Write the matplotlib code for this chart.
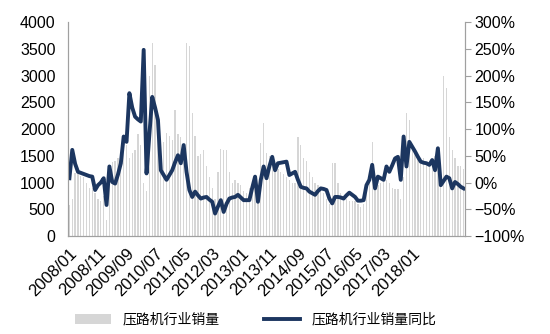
import matplotlib.pyplot as plt
import matplotlib.transforms as mtransforms
import numpy as np

plt.rcParams['font.family'] = ['Liberation Sans', 'Noto Sans CJK SC', 'DejaVu Sans']

# monthly data, 2008/01 .. 2019/07
months = []
for y in range(2008, 2020):
    for m in range(1, 13):
        months.append(f'{y}/{m:02d}')
months = months[:139]

sales = [
    580, 700, 1180, 1200, 1130, 1100, 1000, 900, 900, 800,
    700, 650, 750, 300, 1300, 1380, 1400, 1450, 1550, 1650,
    1700, 1450, 1550, 1600, 1900, 1700, 1000, 850, 3000, 3600,
    3200, 2000, 1500, 1750, 1920, 1870, 1800, 2350, 1900, 1850,
    1550, 3600, 3550, 2300, 1870, 1500, 1540, 1600, 1300, 1100,
    900, 700, 1200, 1620, 1600, 1600, 1200, 1000, 1050, 1000,
    950, 850, 800, 900, 1000, 1100, 800, 1740, 2110, 1550,
    1500, 1450, 1300, 1250, 1200, 1150, 1100, 1050, 1000, 1000,
    1850, 1700, 1450, 1400, 1200, 1100, 1000, 950, 900, 800,
    700, 600, 1360, 1360, 1000, 800, 750, 700, 650, 650,
    650, 600, 550, 600, 800, 1100, 1760, 900, 960, 1000,
    1050, 1050, 1000, 900, 880, 880, 700, 1100, 2300, 2170,
    1700, 1550, 1500, 1400, 1450, 1350, 1300, 1350, 1500, 1400,
    1350, 3000, 2770, 1860, 1600, 1450, 1300, 1300, 1250,
]

yoy = [
    8, 61, 35, 20, 18, 16, 14, 12, 11, -14,
    -5, 0, 8, -42, 30, 1, -2, 15, 36, 86,
    76, 167, 140, 123, 118, 114, 248, 17, 90, 160,
    140, 117, 23, 14, 5, 14, 23, 38, 51, 36,
    70, 20, -14, -27, -17, -24, -30, -28, -27, -32,
    -36, -58, -45, -33, -55, -40, -30, -28, -27, -23,
    -28, -33, -33, -33, -10, 11, -36, 5, 30, 8,
    30, 48, 23, 36, 37, 38, 39, 14, 17, 20,
    5, -8, -10, -11, -17, -20, -23, -16, -11, -12,
    -14, -30, -39, -27, -27, -28, -30, -24, -19, -23,
    -27, -34, -34, -33, -5, 5, 33, -11, 11, 8,
    5, 30, 20, 32, 45, 48, 5, 86, 30, 76,
    67, 58, 48, 39, 37, 36, 33, 42, 23, 64,
    -5, 3, 11, 8, -11, 1, -3, -8, -11,
]

x = np.arange(len(months))

fig = plt.figure(figsize=(5.5, 3.34), dpi=100)
ax = fig.add_axes([0.1236, 0.2934, 0.7219, 0.6406])
ax2 = ax.twinx()

ax.bar(x, sales, width=0.45, color='#d6d6d6', label='压路机行业销量')
ax2.plot(x, yoy, color='#1c3660', lw=2.8, label='压路机行业销量同比')

ax.set_xlim(-0.5, len(months) - 0.5)
ax.set_ylim(0, 4000)
ax.set_yticks(range(0, 4001, 500))
ax2.set_ylim(-100, 300)
ax2.set_yticks(range(-100, 301, 50))
ax2.set_yticklabels([f'{v}%'.replace('-', '\u2212') for v in range(-100, 301, 50)])

# labels every 10 months, last one 2018/01
ax.set_xticks(x[:121:10])
ax.set_xticklabels(months[:121:10], rotation=45, ha='right', rotation_mode='anchor',
                   fontsize=12)
shift = mtransforms.ScaledTranslation(0.04, 0, fig.dpi_scale_trans)
for lab in ax.get_xticklabels():
    lab.set_transform(lab.get_transform() + shift)

for a in (ax, ax2):
    a.spines['top'].set_visible(False)
    for s in ('left', 'right', 'bottom'):
        a.spines[s].set_color('#a0a0a0')
    a.tick_params(axis='y', labelsize=11.5)
ax.tick_params(axis='y', length=0, pad=9)
ax.tick_params(axis='x', length=0, pad=7)
ax2.tick_params(axis='y', length=4, color='#a0a0a0', pad=3)

h1, l1 = ax.get_legend_handles_labels()
h2, l2 = ax2.get_legend_handles_labels()
fig.legend(h1 + h2, l1 + l2, loc='lower center', bbox_to_anchor=(0.465, -0.015),
           ncol=2, frameon=False, handlelength=2.6, columnspacing=3.2,
           prop={'family': ['Noto Sans CJK SC'], 'size': 10})

fig.savefig('out.png', dpi=100)
